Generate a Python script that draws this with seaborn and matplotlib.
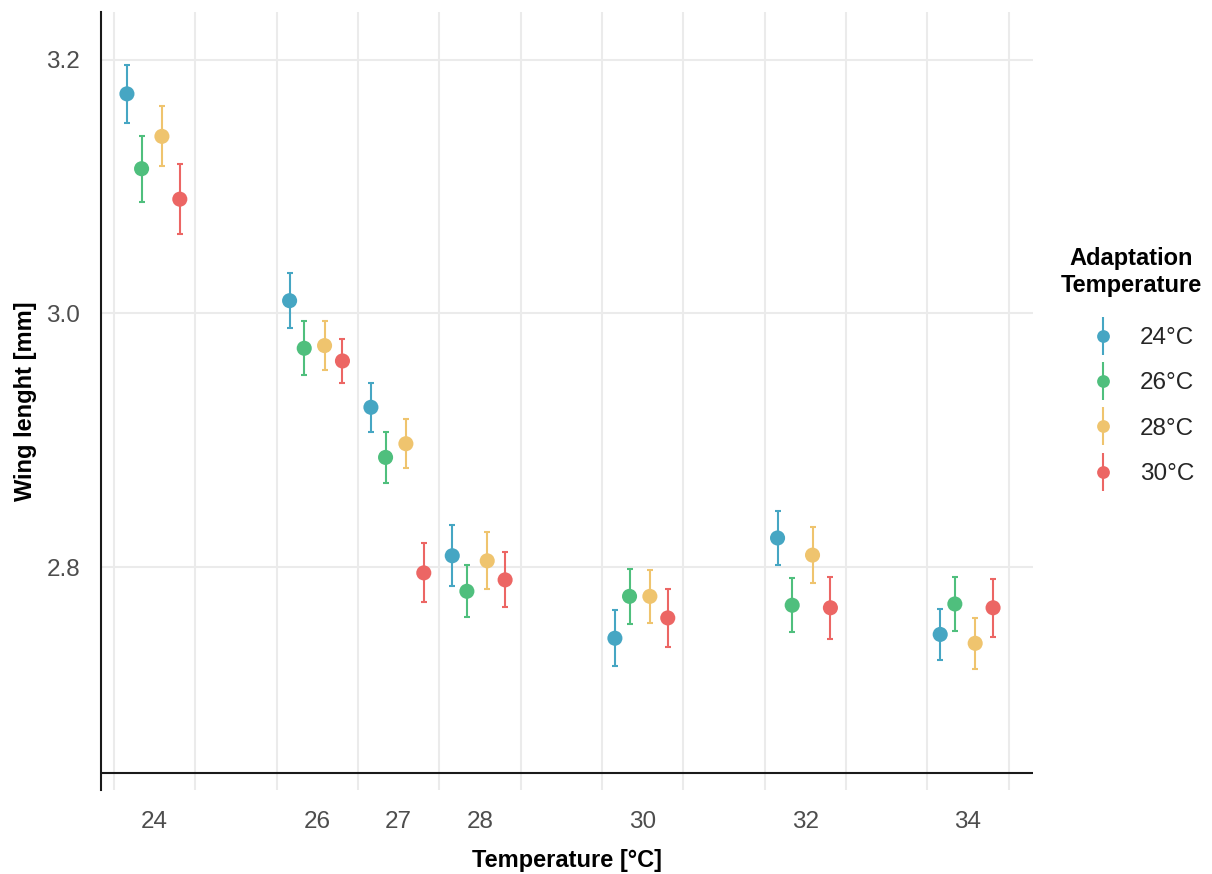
import numpy as np
import pandas as pd
import matplotlib
matplotlib.use("Agg")
import matplotlib.pyplot as plt
import seaborn as sns
from matplotlib.lines import Line2D
from matplotlib.legend_handler import HandlerTuple

# ---- data ----
temps = [24, 26, 27, 28, 30, 32, 34]
groups = ["24°C", "26°C", "28°C", "30°C"]
means_24 = [3.173, 3.010, 2.926, 2.809, 2.744, 2.823, 2.747]
means_26 = [3.114, 2.9725, 2.8865, 2.781, 2.777, 2.770, 2.771]
means_28 = [3.1395, 2.9746, 2.8973, 2.805, 2.777, 2.8095, 2.740]
means_30 = [3.090, 2.9625, 2.7955, 2.790, 2.760, 2.768, 2.768]
se_24 = [0.0228, 0.0217, 0.0195, 0.0240, 0.0222, 0.0213, 0.0199]
se_26 = [0.0260, 0.0211, 0.0200, 0.0204, 0.0219, 0.0214, 0.0213]
se_28 = [0.0237, 0.0190, 0.0195, 0.0225, 0.0210, 0.0218, 0.0201]
se_30 = [0.0275, 0.0176, 0.0233, 0.0217, 0.0231, 0.0246, 0.0229]
y_ticks = [2.8, 3.0, 3.2]
y_ticklabels = ["2.8", "3.0", "3.2"]

colors = ["#46A6C3", "#4FBF7D", "#EFC46E", "#EC6664"]
dodge = {"24°C": -0.34, "26°C": -0.16, "28°C": 0.09, "30°C": 0.31}

rows = []
for g, m, s in zip(groups, [means_24, means_26, means_28, means_30],
                   [se_24, se_26, se_28, se_30]):
    for t, mm, ss in zip(temps, m, s):
        rows.append(dict(temp=t, group=g, mean=mm, se=ss))
df = pd.DataFrame(rows)
df["xpos"] = df["temp"] + df["group"].map(dodge)

sns.set_theme(style="white")
plt.rcParams["font.family"] = ["Liberation Sans", "DejaVu Sans"]

W, H = 1212, 874
fig = plt.figure(figsize=(W / 100, H / 100), dpi=100)
ax = fig.add_axes([101 / W, 1 - 790 / H, (1033 - 101) / W, (790 - 12) / H])

for g, c in zip(groups, colors):
    sub = df[df.group == g]
    ax.errorbar(sub["xpos"], sub["mean"], yerr=sub["se"], fmt="none",
                ecolor=c, elinewidth=1.5, capsize=2.3, capthick=1.5, zorder=3)
sns.scatterplot(data=df, x="xpos", y="mean", hue="group", palette=colors,
                hue_order=groups, s=118, linewidth=0, ax=ax, zorder=4, legend=False)

ax.set_xlim(23.341, 34.801)
ax.set_ylim(2.6244, 3.2375)
ax.set_xticks(temps)
ax.set_xticklabels([str(t) for t in temps])
ax.set_xticks(np.arange(23.5, 35.0, 1.0), minor=True)
ax.set_yticks(y_ticks)
ax.set_yticklabels(y_ticklabels)

ax.grid(False)
ax.grid(which="minor", axis="x", color="#EBEBEB", lw=1.5, zorder=0)
ax.grid(which="major", axis="y", color="#EBEBEB", lw=1.5, zorder=0)
ax.set_axisbelow(True)

ax.tick_params(axis="both", which="both", length=0, labelsize=17.5,
               labelcolor="#4D4D4D", pad=15)

for sp in ["top", "right", "bottom"]:
    ax.spines[sp].set_visible(False)
ax.spines["left"].set_color("#1A1A1A")
ax.spines["left"].set_linewidth(1.5)
ax.axhline(2.638, color="#1A1A1A", lw=1.5, zorder=5)

ax.set_xlabel("Temperature [°C]", fontsize=17, fontweight="bold", color="black", va="center")
ax.set_ylabel("Wing lenght [mm]", fontsize=17, fontweight="bold", color="black", va="center")
ax.xaxis.set_label_coords(0.5, -(860 - 790) / 778)
ax.yaxis.set_label_coords((26 - 101) / 932, 0.5)

# legend
fig.text(1131 / W, 1 - 272 / H, "Adaptation\nTemperature", ha="center", va="center",
         multialignment="center", fontsize=17, fontweight="bold", color="black",
         linespacing=1.25)
handles = [(Line2D([], [], marker="|", markersize=27, mew=1.5, color=c, ls="none"),
            Line2D([], [], marker="o", markersize=9.2, mew=0, color=c, ls="none"))
           for c in colors]
fig.legend(handles, groups, handler_map={tuple: HandlerTuple(ndivide=1)},
           loc="upper left", bbox_to_anchor=(1091 / W, 1 - 327 / H),
           frameon=False, fontsize=17.5, handlelength=1.0, handletextpad=1.0,
           labelspacing=0.96, borderpad=0, borderaxespad=0)

fig.savefig("out.png", dpi=100)
